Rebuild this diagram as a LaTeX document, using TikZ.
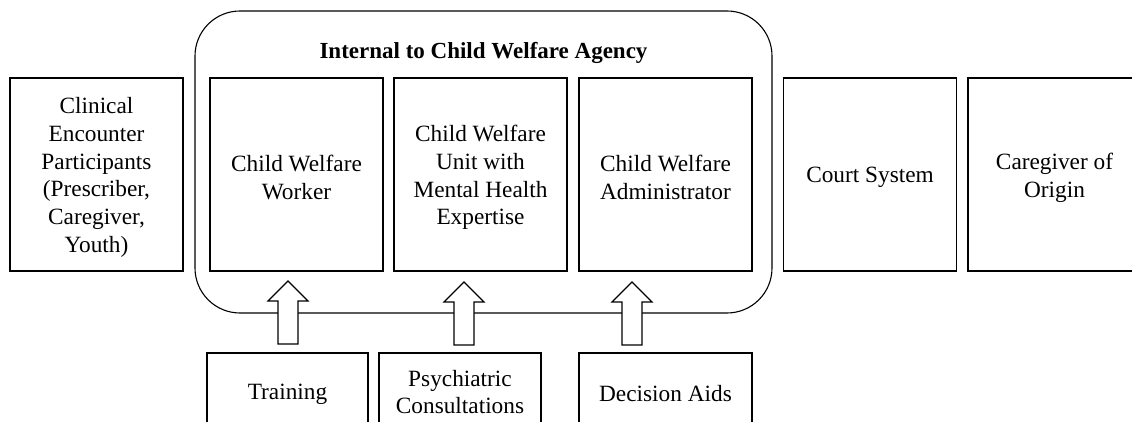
\documentclass[tikz,border=0pt]{standalone}
\usepackage{fontspec}
\setmainfont{Liberation Serif}
\usetikzlibrary{calc}
\begin{document}
\begin{tikzpicture}[x=1pt,y=-1pt,
  txt/.style={font=\fontsize{23.3}{27.7}\selectfont, align=center, inner sep=0pt},
  box/.style={draw, line width=1.1pt, minimum width=173pt, minimum height=193pt, inner sep=0pt},
  boxtext/.style={txt, yshift=-3pt},
  lowbox/.style={draw, line width=1.1pt, minimum height=78pt, inner sep=0pt},
  group/.style={draw, line width=1.1pt, rounded corners=45pt},
  uparrow/.pic={\draw[line width=1.1pt, fill=white] (-10,0) -- (-10,-43) -- (-20,-43) -- (0,-63) -- (20,-43) -- (10,-43) -- (10,0) -- cycle;}
]
\useasboundingbox (0,0) rectangle (1132,422);
\clip (0,0) rectangle (1132,422);
\fill[white] (0,0) rectangle (1132,422);
% group box
\draw[group] (195,11) rectangle (772,313);
\node[txt, font=\fontsize{23}{27.7}\selectfont\bfseries] (title) at (483.5,53) {Internal to Child Welfare Agency};
% top boxes
\node[box] (clin) at (96.5,174.5) {};
\node[boxtext] (clint) at (clin.center) {Clinical\\Encounter\\Participants\\(Prescriber,\\Caregiver,\\Youth)};
\node[box] (worker) at (296.5,174.5) {};
\node[boxtext] (workert) at (worker.center) {Child Welfare\\Worker};
\node[box] (unit) at (480.5,174.5) {};
\node[boxtext] (unitt) at (unit.center) {Child Welfare\\Unit with\\Mental Health\\Expertise};
\node[box] (admin) at (665.5,174.5) {};
\node[boxtext] (admint) at (admin.center) {Child Welfare\\Administrator};
\node[box] (court) at (870,174.5) {};
\node[boxtext] (courtt) at (court.center) {Court System};
\node[box] (origin) at (1054.5,174.5) {};
\node[boxtext] (origint) at (origin.center) {Caregiver of\\Origin};
% bottom boxes
\node[lowbox, minimum width=161pt] (train) at (287.5,392) {};
\node[txt, yshift=-2pt] (traint) at (train.center) {Training};
\node[lowbox, minimum width=162pt] (psych) at (460,392) {};
\node[txt] (psycht) at (psych.center) {Psychiatric\\Consultations};
\node[lowbox, minimum width=173pt] (aids) at (665.5,392) {};
\node[txt, yshift=-2pt] (aidst) at (aids.center) {Decision Aids};
% block arrows
\coordinate (a1) at (288,344);
\coordinate (a2) at (464,345);
\coordinate (a3) at (632,345);
\pic at (a1) {uparrow};
\pic at (a2) {uparrow};
\pic at (a3) {uparrow};
\end{tikzpicture}
\end{document}
